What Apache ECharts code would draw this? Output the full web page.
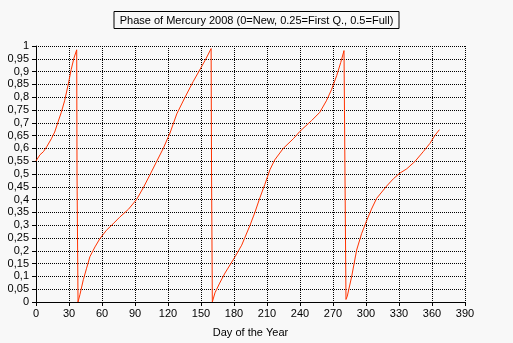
<!DOCTYPE html>
<html>
<head>
<meta charset="utf-8">
<script src="https://cdn.jsdelivr.net/npm/echarts@6/dist/echarts.min.js"></script>
<style>
  html, body { margin: 0; padding: 0; background: #f8f8f8; }
  #chart { width: 513px; height: 343px; }
</style>
</head>
<body>
<div id="chart"></div>
<script>
// day of year / phase (drops at new moon kept as in the original)
const days = [0, 3.6, 6.7, 9.7, 14, 17, 20, 23, 26, 29, 32, 34.5, 37, 37.3, 37.3, 38.2, 38.2,
  40, 43, 46, 49, 53.6, 58, 64, 70, 76, 84, 91.5, 97.5, 103.6, 109.7, 115.7, 121.8, 128,
  135.5, 143, 150.6, 154.5, 159.2, 159.6, 159.6, 160.3, 160.3,
  162.7, 167, 171.8, 181, 187, 194.5, 199, 203.6, 208, 212.7, 217, 224.8, 234, 240, 250.6, 258, 264,
  268.8, 273.4, 277, 280, 280.9, 280.9, 281.8, 281.8,
  283, 287, 291.5, 296, 300.6, 305, 309.7, 318.8, 325, 331, 337, 344.5, 352, 358, 362.7, 366.7];
const phase = [0.551, 0.575, 0.587, 0.606, 0.638, 0.664, 0.703, 0.741, 0.786, 0.844, 0.908, 0.953, 0.985, 0.985, 0.5, 0.5, 0,
  0.03, 0.087, 0.132, 0.177, 0.215, 0.247, 0.28, 0.305, 0.331, 0.362, 0.401, 0.446, 0.497, 0.549, 0.6, 0.66, 0.735,
  0.8, 0.862, 0.92, 0.95, 0.99, 0.99, 0.5, 0.5, 0,
  0.036, 0.074, 0.113, 0.177, 0.222, 0.299, 0.35, 0.408, 0.459, 0.517, 0.555, 0.6, 0.638, 0.667, 0.709, 0.741, 0.786,
  0.831, 0.885, 0.935, 0.982, 0.982, 0.494, 0.494, 0.01,
  0.023, 0.1, 0.203, 0.267, 0.318, 0.363, 0.405, 0.453, 0.482, 0.504, 0.52, 0.549, 0.587, 0.619, 0.651, 0.673];

const titleText = 'Phase of Mercury 2008 (0=New, 0.25=First Q., 0.5=Full)';
const xName = 'Day of the Year';

const points = days.map((d, i) => [d, phase[i]]);
const font = 'Liberation Sans';

const chart = echarts.init(document.getElementById('chart'));
chart.setOption({
  backgroundColor: '#f8f8f8',
  animation: false,
  title: {
    text: titleText,
    left: 'center',
    top: 11,
    padding: [4, 6, 3, 6],
    borderColor: '#000',
    borderWidth: 1,
    textStyle: { fontFamily: font, fontSize: 11, fontWeight: 'normal', color: '#000' }
  },
  grid: { left: 36, right: 48, top: 46, bottom: 37 },
  xAxis: {
    type: 'value',
    min: 0, max: 390, interval: 30,
    name: xName,
    nameLocation: 'middle',
    nameGap: 25,
    nameTextStyle: { fontFamily: font, fontSize: 11, color: '#000' },
    axisLine: { show: true, lineStyle: { color: '#000', width: 1 } },
    axisTick: { show: true, length: 4, lineStyle: { color: '#000' } },
    axisLabel: { fontFamily: font, fontSize: 11, color: '#000', margin: 6 },
    splitLine: { show: true, lineStyle: { color: '#000', type: [1, 1], width: 1 } }
  },
  yAxis: {
    type: 'value',
    min: 0, max: 1, interval: 0.05,
    axisLine: { show: true, lineStyle: { color: '#000', width: 1 } },
    axisTick: { show: true, length: 4, lineStyle: { color: '#000' } },
    axisLabel: {
      fontFamily: font, fontSize: 11, color: '#000', margin: 7,
      formatter: v => String(+v.toFixed(2)).replace('.', ',')
    },
    splitLine: { show: true, lineStyle: { color: '#000', type: [1, 1], width: 1 } }
  },
  series: [{
    type: 'line',
    data: points,
    showSymbol: false,
    lineStyle: { color: '#ff3300', width: 1 }
  }]
});
</script>
</body>
</html>
